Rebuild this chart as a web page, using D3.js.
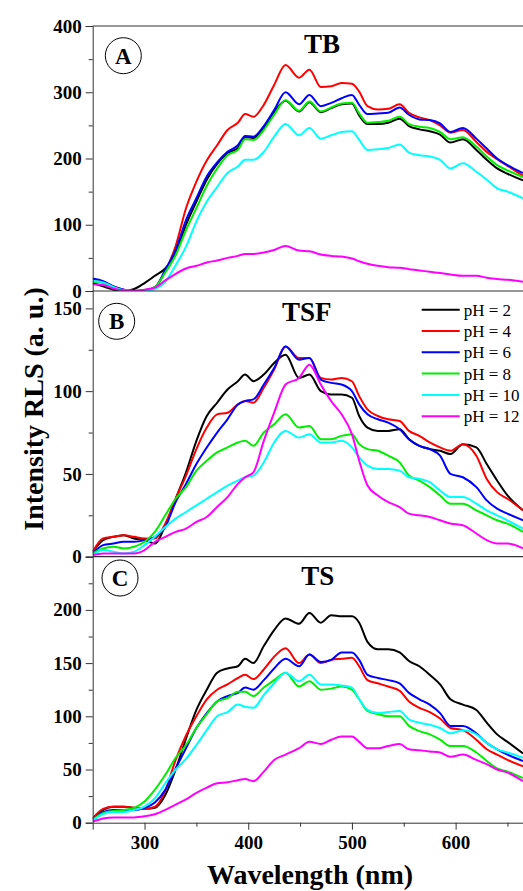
<!DOCTYPE html>
<html>
<head>
<meta charset="utf-8">
<script src="https://cdn.jsdelivr.net/npm/d3@7"></script>
<style>
  html, body { margin: 0; padding: 0; background: #fff; }
  svg { display: block; }
</style>
</head>
<body>
<div id="container"></div>
<script>
// wavelength grid (nm) shared by all spectra
const wavelength = [250,260,270,280,290,300,310,320,330,340,350,360,370,380,390,397,405,415,425,436,449,459,470,480,490,500,507,515,525,535,546,555,565,575,585,595,607,620,630,640,650,665];

const phLabels = ["pH = 2", "pH = 4", "pH = 6", "pH = 8", "pH = 10", "pH = 12"];
const phColors = ["#000000", "#ff0000", "#0000ff", "#00ee00", "#00ffff", "#ff00ff"];

// Panel A - TB
const tbPH2  = [12,7,2,0,3,12,23,34,57,100,135,168,192,208,216,232,231,246,270,287,271,285,270,276,282,283,265,252,252,254,260,249,244,241,236,224,229,213,198,185,177,167];
const tbPH4  = [18,14,7,2,0,1,6,30,68,125,165,197,220,243,254,267,263,281,311,341,322,334,308,309,314,313,301,279,274,275,282,269,262,258,250,239,243,225,210,199,189,174];
const tbPH6  = [19,15,7,2,0,1,5,32,62,107,140,173,194,210,220,234,233,249,273,300,282,296,279,284,291,296,281,267,268,269,277,266,259,258,253,240,246,230,215,200,190,178];
const tbPH8  = [14,12,5,1,0,1,6,28,54,92,125,159,185,205,213,229,228,243,266,288,272,286,271,277,283,284,268,254,255,257,263,252,248,246,240,229,232,218,203,190,182,172];
const tbPH10 = [15,13,6,1,0,0,3,14,39,67,105,135,157,178,188,198,198,210,233,252,235,246,230,235,240,241,228,213,214,216,221,209,205,203,198,185,193,180,168,155,150,140];
const tbPH12 = [10,9,4,1,0,2,5,16,26,34,38,43,46,50,53,56,56,58,62,68,61,60,55,53,52,49,45,41,38,36,35,33,31,29,27,25,23,23,20,18,17,14];

// Panel B - TSF
const tsfPH2  = [3,10,12,13,11,10,8,19,35,51,70,85,93,101,106,110,106,110,117,122,108,110,100,98,98,96,85,78,76,76,77,71,67,65,64,62,68,66,56,46,37,28];
const tsfPH4  = [3,11,12,13,12,11,11,20,35,49,65,78,86,87,92,94,93,102,113,127,120,120,108,107,108,106,97,89,85,83,82,76,73,69,66,64,68,61,47,39,35,28];
const tsfPH6  = [2,7,8,9,9,10,12,18,33,44,56,66,75,83,92,94,95,104,114,127,119,120,107,105,104,100,92,86,83,81,77,71,67,65,61,50,48,42,34,29,26,22];
const tsfPH8  = [2,5,6,5,6,9,15,25,35,42,52,58,63,66,69,70,67,75,80,86,78,79,71,71,73,74,68,65,64,61,57,49,46,42,37,32,32,28,25,22,20,15];
const tsfPH10 = [1,4,3,2,3,7,12,18,23,27,31,35,39,43,46,48,49,57,69,76,72,74,69,69,70,66,60,55,53,53,52,48,47,45,40,36,36,32,28,25,22,17];
const tsfPH12 = [1,2,2,2,2,4,9,12,15,17,21,24,30,36,44,48,51,70,87,104,108,116,104,94,86,74,58,43,37,33,30,26,25,24,22,20,19,14,10,8,8,5];

// Panel C - TS
const tsPH2  = [4,12,15,15,14,13,14,26,50,79,106,125,141,145,147,154,150,166,181,192,187,197,188,195,194,194,188,170,163,163,160,152,147,139,130,116,111,106,94,83,76,65];
const tsPH4  = [4,13,15,15,14,13,15,30,59,82,100,116,125,130,136,139,135,144,156,164,150,158,150,153,154,155,147,134,131,128,124,114,108,104,98,89,87,78,69,64,59,53];
const tsPH6  = [3,10,12,12,12,14,19,31,51,70,89,103,114,119,122,127,125,134,145,154,147,158,151,153,160,160,153,139,136,134,131,122,116,111,103,91,91,84,75,69,64,58];
const tsPH8  = [3,9,11,12,14,20,31,45,61,73,89,102,114,117,123,123,119,127,134,141,128,133,125,126,128,125,116,105,102,100,100,91,86,83,78,72,72,66,58,51,48,42];
const tsPH10 = [2,8,10,10,12,15,23,37,50,60,73,87,100,104,111,109,108,120,131,141,133,139,130,130,129,127,116,106,103,104,105,97,94,92,89,84,87,83,75,69,66,61];
const tsPH12 = [1,4,5,5,5,6,8,12,17,22,28,33,37,38,40,41,39,48,59,64,70,76,74,78,81,81,76,70,70,72,74,69,68,67,66,62,64,59,55,50,47,39];

const width = 523;
const height = 891;
const left = 92.7;
const right = 528.2;

const svg = d3.select("#container")
  .append("svg")
  .attr("width", width)
  .attr("height", height);

svg.append("rect").attr("width", width).attr("height", height).attr("fill", "#fff");

const x = d3.scaleLinear().domain([250, 670]).range([left, right]);

const serif = "'Liberation Serif', 'Times New Roman', serif";

const panels = [
  { id: "A", title: "TB", series: [tbPH2, tbPH4, tbPH6, tbPH8, tbPH10, tbPH12],
    domain: [0, 400], top: 26, bottom: 291, major: [0,100,200,300,400], minor: [50,150,250,350],
    circle: [123.3, 55.7], titlePos: [322, 53] },
  { id: "B", title: "TSF", series: [tsfPH2, tsfPH4, tsfPH6, tsfPH8, tsfPH10, tsfPH12],
    domain: [0, 160.5], top: 291, bottom: 556.7, major: [0,50,100,150], minor: [25,75,125],
    circle: [116.7, 321.3], titlePos: [306.7, 321] },
  { id: "C", title: "TS", series: [tsPH2, tsPH4, tsPH6, tsPH8, tsPH10, tsPH12],
    domain: [0, 250], top: 556.7, bottom: 822.7, major: [0,50,100,150,200], minor: [25,75,125,175,225],
    circle: [120, 578], titlePos: [317.7, 585] }
];

panels.forEach(p => {
  const y = d3.scaleLinear().domain(p.domain).range([p.bottom, p.top]);

  const clipId = "clip" + p.id;
  svg.append("clipPath").attr("id", clipId)
    .append("rect")
    .attr("x", left).attr("y", p.top)
    .attr("width", right - left).attr("height", p.bottom - p.top);

  const line = d3.line()
    .x((d, i) => x(wavelength[i]))
    .y(d => y(d))
    .curve(d3.curveMonotoneX);

  const g = svg.append("g").attr("clip-path", `url(#${clipId})`);
  p.series.forEach((s, i) => {
    g.append("path")
      .datum(s)
      .attr("fill", "none")
      .attr("stroke", phColors[i])
      .attr("stroke-width", 2)
      .attr("stroke-linejoin", "round")
      .attr("d", line);
  });

  // y axis (major + minor)
  const yAxis = svg.append("g")
    .attr("transform", `translate(${left},0)`)
    .call(d3.axisLeft(y).tickValues(p.major).tickSize(7).tickPadding(4).tickFormat(d3.format("d")));
  yAxis.select(".domain").attr("stroke", "#333");
  yAxis.selectAll(".tick line").attr("stroke", "#333");
  yAxis.selectAll("text")
    .style("font-family", serif)
    .style("font-weight", "bold")
    .style("font-size", "19px")
    .attr("fill", "#000");

  const yMinor = svg.append("g")
    .attr("transform", `translate(${left},0)`)
    .call(d3.axisLeft(y).tickValues(p.minor).tickSize(4).tickFormat(""));
  yMinor.select(".domain").remove();
  yMinor.selectAll(".tick line").attr("stroke", "#333");

  // top frame line
  svg.append("line")
    .attr("x1", left).attr("x2", width)
    .attr("y1", p.top).attr("y2", p.top)
    .attr("stroke", "#333").attr("stroke-width", 1.2);

  // panel letter in a circle
  svg.append("circle")
    .attr("cx", p.circle[0]).attr("cy", p.circle[1])
    .attr("r", 18)
    .attr("fill", "none")
    .attr("stroke", "#000")
    .attr("stroke-width", 1);
  svg.append("text")
    .attr("x", p.circle[0]).attr("y", p.circle[1] + 8)
    .attr("text-anchor", "middle")
    .style("font-family", serif)
    .style("font-weight", "bold")
    .style("font-size", "23px")
    .text(p.id);

  svg.append("text")
    .attr("x", p.titlePos[0]).attr("y", p.titlePos[1])
    .attr("text-anchor", "middle")
    .style("font-family", serif)
    .style("font-weight", "bold")
    .style("font-size", "27px")
    .text(p.title);
});

// bottom x axis
const xAxis = svg.append("g")
  .attr("transform", `translate(0,${panels[2].bottom})`)
  .call(d3.axisBottom(x).tickValues([300, 400, 500, 600]).tickSize(7).tickPadding(6).tickFormat(d3.format("d")));
xAxis.select(".domain").attr("stroke", "#333");
xAxis.selectAll(".tick line").attr("stroke", "#333");
xAxis.selectAll("text")
  .style("font-family", serif)
  .style("font-weight", "bold")
  .style("font-size", "19px")
  .attr("fill", "#000");

const xMinor = svg.append("g")
  .attr("transform", `translate(0,${panels[2].bottom})`)
  .call(d3.axisBottom(x).tickValues([350, 450, 550, 650]).tickSize(4).tickFormat(""));
xMinor.select(".domain").remove();
xMinor.selectAll(".tick line").attr("stroke", "#333");

// axis titles
svg.append("text")
  .attr("x", 310).attr("y", 884)
  .attr("text-anchor", "middle")
  .style("font-family", serif)
  .style("font-weight", "bold")
  .style("font-size", "28px")
  .text("Wavelength (nm)");

svg.append("text")
  .attr("transform", "rotate(-90)")
  .attr("x", -409).attr("y", 43)
  .attr("text-anchor", "middle")
  .style("font-family", serif)
  .style("font-weight", "bold")
  .style("font-size", "28px")
  .text("Intensity RLS (a. u.)");

// legend (panel B)
const legend = svg.append("g").attr("transform", "translate(421.7,309.7)");
phLabels.forEach((label, i) => {
  legend.append("line")
    .attr("x1", 0).attr("x2", 38)
    .attr("y1", i * 21.3).attr("y2", i * 21.3)
    .attr("stroke", phColors[i])
    .attr("stroke-width", 2);
  legend.append("text")
    .attr("x", 42).attr("y", i * 21.3 + 6)
    .style("font-family", serif)
    .style("font-size", "17px")
    .text(label);
});
</script>
</body>
</html>
